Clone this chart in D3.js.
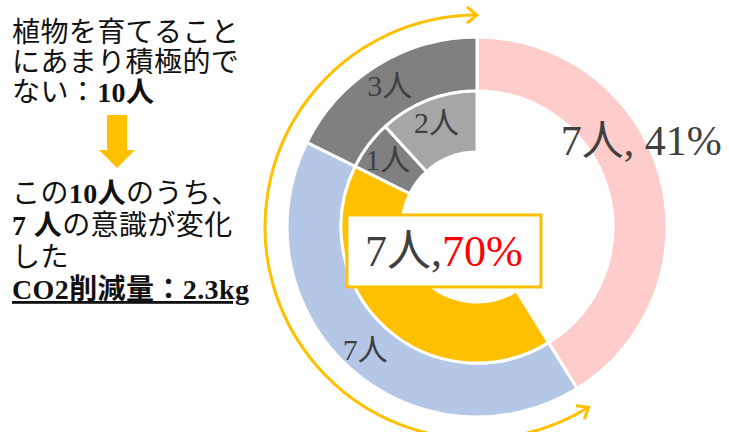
<!DOCTYPE html>
<html>
<head>
<meta charset="utf-8">
<script src="https://cdn.jsdelivr.net/npm/d3@7"></script>
<style>
  body { margin: 0; background: #fff; }
  svg { display: block; }
</style>
</head>
<body>
<script>
var w = 729;
var h = 432;

// outer ring: 17 people
var outerValues = [7, 7, 3];
var outerColors = ['#FFCCCC', '#B4C7E7', '#808080'];
var outerLabels = ['7人, 41%', '7人', '3人'];

// inner ring: first slice is hidden (same span as the pink one)
var innerValues = [7, 7, 1, 2];
var innerColors = ['none', '#FFC000', '#808080', '#A6A6A6'];
var innerLabels = ['', '', '1人', '2人'];

var boxLabel = ['7人,', '70%'];

var noteTop = [
  [{ t: '植物を育てること' }],
  [{ t: 'にあまり積極的で' }],
  [{ t: 'ない：' }, { t: '10人', b: true }]
];
var noteBottom = [
  [{ t: 'この' }, { t: '10人', b: true }, { t: 'のうち、' }],
  [{ t: '7 人', b: true }, { t: 'の意識が変化' }],
  [{ t: 'した' }],
  [{ t: 'CO2削減量：2.3kg', b: true, u: true }]
];

var font = "'Liberation Serif', 'Noto Sans CJK JP', serif";
var gold = '#FFC000';
var cx = 477, cy = 227;

var svg = d3.select('body').append('svg')
  .attr('width', w)
  .attr('height', h);

var defs = svg.append('defs');
defs.append('marker')
  .attr('id', 'head')
  .attr('markerUnits', 'userSpaceOnUse')
  .attr('viewBox', '-12 -10 16 20')
  .attr('markerWidth', 16)
  .attr('markerHeight', 20)
  .attr('refX', 0)
  .attr('refY', 0)
  .attr('orient', 'auto-start-reverse')
  .append('path')
    .attr('d', 'M-10,-8 L0,0 L-10,8')
    .attr('fill', 'none')
    .attr('stroke', gold)
    .attr('stroke-width', 3);

var g = svg.append('g').attr('transform', 'translate(' + cx + ',' + cy + ')');

var pie = d3.pie().sort(null).value((d) => d);

var outerArc = d3.arc().innerRadius(136).outerRadius(190);
var innerArc = d3.arc().innerRadius(75).outerRadius(136);

var outerData = pie(outerValues);
var innerData = pie(innerValues);

g.selectAll('path.outer')
  .data(outerData)
  .enter().append('path')
    .attr('class', 'outer')
    .attr('d', outerArc)
    .attr('fill', (d, i) => outerColors[i])
    .attr('stroke', '#fff')
    .attr('stroke-width', 3);

g.selectAll('path.inner')
  .data(innerData.filter((d, i) => innerColors[i] !== 'none'))
  .enter().append('path')
    .attr('class', 'inner')
    .attr('d', innerArc)
    .attr('fill', (d) => innerColors[d.index])
    .attr('stroke', '#fff')
    .attr('stroke-width', 3);

// gold double arrow around the left side
var arrowR = 212;
var p = d3.path();
var a0 = outerData[1].startAngle - Math.PI / 2;
var a1 = 2 * Math.PI - Math.PI / 2;
p.arc(0, 0, arrowR, a0, a1, false);
g.append('path')
  .attr('d', p.toString())
  .attr('fill', 'none')
  .attr('stroke', gold)
  .attr('stroke-width', 3)
  .attr('marker-start', 'url(#head)')
  .attr('marker-end', 'url(#head)');

// labels
var polar = (angle, r) => [r * Math.sin(angle), -r * Math.cos(angle)];
var mid = (d) => (d.startAngle + d.endAngle) / 2;

var pinkPos = polar(mid(outerData[0]) - 0.21, 186);
g.append('text')
  .attr('x', pinkPos[0])
  .attr('y', pinkPos[1])
  .attr('dy', '0.35em')
  .attr('text-anchor', 'middle')
  .attr('font-family', font)
  .attr('font-size', 42)
  .attr('fill', '#404040')
  .text(outerLabels[0]);

[1, 2].forEach((i) => {
  var pos = polar(mid(outerData[i]), 166);
  g.append('text')
    .attr('x', pos[0])
    .attr('y', pos[1])
    .attr('dy', '0.35em')
    .attr('text-anchor', 'middle')
    .attr('font-family', font)
    .attr('font-size', 30)
    .attr('fill', '#404040')
    .text(outerLabels[i]);
});

[2, 3].forEach((i) => {
  var pos = polar(mid(innerData[i]), 112);
  g.append('text')
    .attr('x', pos[0])
    .attr('y', pos[1])
    .attr('dy', '0.35em')
    .attr('text-anchor', 'middle')
    .attr('font-family', font)
    .attr('font-size', 30)
    .attr('fill', '#404040')
    .text(innerLabels[i]);
});

// boxed label for the gold slice, moved in from the centroid
var c = innerArc.centroid(innerData[1]);
var boxPos = [c[0] + 38, c[1] - 54];
var bw = 194, bh = 72;
g.append('rect')
  .attr('x', boxPos[0] - bw / 2)
  .attr('y', boxPos[1] - bh / 2)
  .attr('width', bw)
  .attr('height', bh)
  .attr('fill', '#fff')
  .attr('stroke', gold)
  .attr('stroke-width', 3);
var bt = g.append('text')
  .attr('x', boxPos[0])
  .attr('y', boxPos[1])
  .attr('dy', '0.35em')
  .attr('text-anchor', 'middle')
  .attr('font-family', font)
  .attr('font-size', 44);
bt.append('tspan').attr('fill', '#404040').text(boxLabel[0]);
bt.append('tspan').attr('fill', '#FF0000').text(boxLabel[1]);

// note on the left
var note = svg.append('g').attr('transform', 'translate(12,0)');
function writeLines(lines, y0, step) {
  lines.forEach((line, i) => {
    var t = note.append('text')
      .attr('x', 0)
      .attr('y', y0 + i * step)
      .attr('font-family', font)
      .attr('font-size', 28)
      .attr('letter-spacing', 0.4)
      .attr('fill', '#111');
    line.forEach((s) => {
      var ts = t.append('tspan').text(s.t);
      if (s.b) ts.attr('font-weight', 'bold');
      if (s.u) ts.attr('text-decoration', 'underline');
    });
  });
}
writeLines(noteTop, 42, 30);
writeLines(noteBottom, 203, 32);

// down arrow between the two blocks
note.append('path')
  .attr('d', d3.line()([[95, 115], [115, 115], [115, 150], [123, 150], [105, 168], [87, 150], [95, 150]]) + 'Z')
  .attr('fill', gold);
</script>
</body>
</html>
